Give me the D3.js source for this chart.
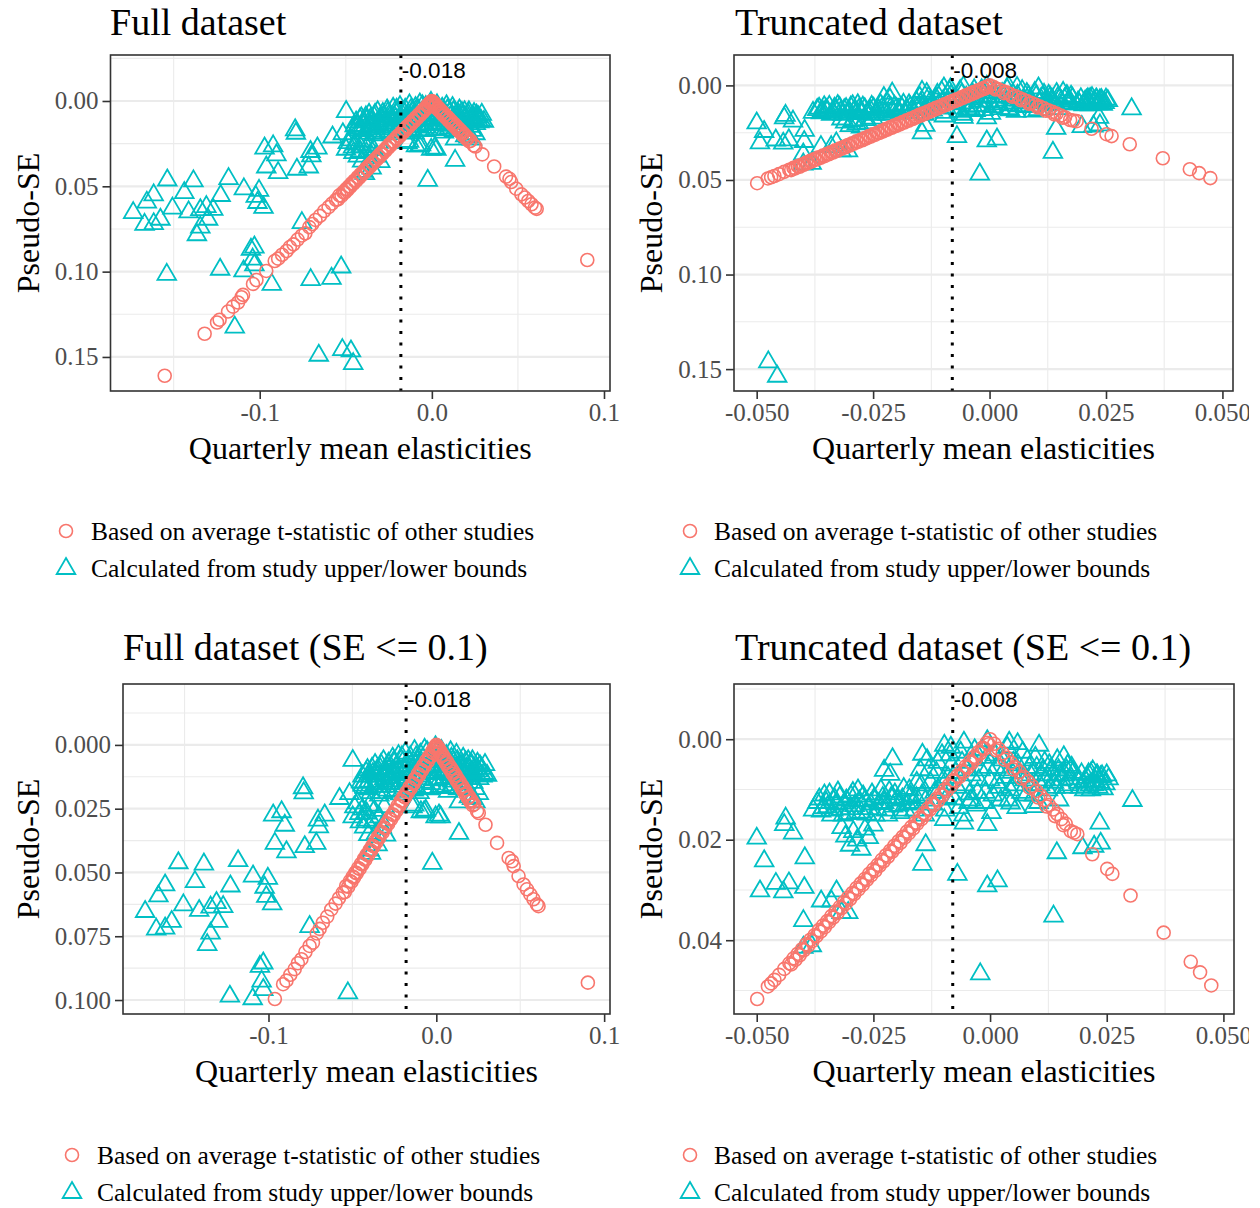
<!DOCTYPE html>
<html>
<head>
<meta charset="utf-8">
<script src="https://cdn.jsdelivr.net/npm/d3@7"></script>
<style>
  body { margin: 0; background: #ffffff; }
  svg { display: block; }
  .tick text { font-family: "Liberation Serif", "Times New Roman", serif; font-size: 25px; fill: #4d4d4d; }
  .tick line { stroke: #333333; stroke-width: 1.6px; }
  .axis-title { font-family: "Liberation Serif", "Times New Roman", serif; font-size: 32px; fill: #000; }
  .panel-title { font-family: "Liberation Serif", "Times New Roman", serif; font-size: 38px; fill: #000; }
  .legend-text { font-family: "Liberation Serif", "Times New Roman", serif; font-size: 25.5px; fill: #000; }
  .mean-label { font-family: "Liberation Sans", Arial, sans-serif; font-size: 22.5px; fill: #000; }
</style>
</head>
<body>
<svg id="chart" width="1260" height="1208"></svg>
<script>
// mean elasticities shown by the dotted lines
const fullMean = -0.018;
const truncMean = -0.008;

const legendLabels = ["Based on average t-statistic of other studies", "Calculated from study upper/lower bounds"];
const panelTitles = ["Full dataset", "Truncated dataset", "Full dataset (SE <= 0.1)", "Truncated dataset (SE <= 0.1)"];
const xLabel = "Quarterly mean elasticities";
const yLabel = "Pseudo-SE";

const fullXTicks = [-0.1, 0, 0.1];
const truncXTicks = [-0.05, -0.025, 0, 0.025, 0.05];
const fullYTicks = [0, 0.05, 0.10, 0.15];
const truncYTicks = [0, 0.05, 0.10, 0.15];
const fullCutYTicks = [0, 0.025, 0.05, 0.075, 0.1];
const truncCutYTicks = [0, 0.02, 0.04];

// [elasticity, pseudo-SE] -- based on average t-statistic (circles)
const fullRed = [
  [-0.1552,0.1610],
  [-0.1320,0.1364],[-0.1248,0.1298],[-0.1233,0.1282],[-0.1184,0.1234],[-0.1155,0.1205],[-0.1126,0.1181],
  [-0.1106,0.1150],[-0.1097,0.1136],[-0.1039,0.1072],[-0.1019,0.1049],
  [-0.0962,0.0996],[-0.0913,0.0938],[-0.0893,0.0924],[-0.0870,0.0901],[-0.0844,0.0879],[-0.0825,0.0856],
  [-0.0804,0.0840],[-0.0780,0.0812],[-0.0755,0.0788],[-0.0735,0.0775],[-0.0712,0.0739],[-0.0695,0.0721],
  [-0.0676,0.0697],[-0.0650,0.0673],[-0.0626,0.0645],[-0.0600,0.0622],[-0.0580,0.0601],[-0.0557,0.0579],
  [-0.0537,0.0553],[-0.0515,0.0534],[-0.0498,0.0516],[-0.0482,0.0500],[-0.0466,0.0483],[-0.0449,0.0466],
  [-0.0431,0.0447],[-0.0415,0.0430],[-0.0397,0.0412],[-0.0381,0.0395],[-0.0364,0.0377],[-0.0348,0.0361],
  [-0.0330,0.0342],[-0.0312,0.0324],[-0.0296,0.0307],[-0.0279,0.0289],[-0.0262,0.0272],[-0.0247,0.0256],
  [-0.0229,0.0237],[-0.0211,0.0219],[-0.0195,0.0202],[-0.0178,0.0185],[-0.0160,0.0166],[-0.0144,0.0149],
  [-0.0128,0.0133],[-0.0110,0.0114],[-0.0094,0.0097],[-0.0077,0.0080],[-0.0060,0.0062],[-0.0043,0.0045],
  [-0.0027,0.0028],[-0.0019,0.0020],[-0.0012,0.0012],[-0.0006,0.0006],[0.0000,0.0000],
  // second row of the thick band
  [-0.0545,0.0577],[-0.0525,0.0556],[-0.0506,0.0537],[-0.0490,0.0520],[-0.0474,0.0503],[-0.0457,0.0486],
  [-0.0440,0.0468],[-0.0423,0.0450],[-0.0406,0.0433],[-0.0389,0.0415],[-0.0372,0.0398],[-0.0356,0.0381],
  [-0.0339,0.0363],[-0.0321,0.0344],[-0.0304,0.0327],[-0.0287,0.0309],[-0.0270,0.0292],[-0.0254,0.0275],
  [-0.0238,0.0258],[-0.0220,0.0240],[-0.0203,0.0222],[-0.0186,0.0205],[-0.0169,0.0187],[-0.0152,0.0170],
  [-0.0136,0.0153],[-0.0119,0.0135],[-0.0102,0.0118],[-0.0085,0.0100],[-0.0068,0.0083],[-0.0051,0.0065],
  [-0.0035,0.0048],[-0.0018,0.0032],[0.0000,0.0016],
  [0.0006,0.0006],[0.0012,0.0012],[0.0019,0.0019],[0.0025,0.0026],[0.0038,0.0039],[0.0050,0.0052],
  [0.0063,0.0065],[0.0076,0.0079],[0.0089,0.0092],[0.0101,0.0105],[0.0115,0.0119],[0.0128,0.0133],
  [0.0141,0.0146],[0.0155,0.0161],[0.0168,0.0174],[0.0182,0.0189],[0.0196,0.0203],[0.0210,0.0218],
  [0.0018,0.0031],[0.0031,0.0045],[0.0044,0.0058],[0.0057,0.0072],[0.0070,0.0086],[0.0083,0.0099],
  [0.0096,0.0113],[0.0109,0.0126],[0.0122,0.0140],[0.0135,0.0153],[0.0148,0.0167],[0.0161,0.0180],
  [0.0175,0.0195],[0.0189,0.0209],[0.0203,0.0223],[0.0217,0.0237],
  [0.0225,0.0233],[0.0243,0.0260],[0.0253,0.0267],[0.0293,0.0313],[0.0362,0.0384],[0.0431,0.0443],
  [0.0451,0.0456],[0.0461,0.0475],[0.0490,0.0514],[0.0520,0.0547],[0.0540,0.0566],[0.0560,0.0586],
  [0.0579,0.0605],[0.0599,0.0625],[0.0609,0.0632],[0.0903,0.0932]
];

// [elasticity, pseudo-SE] -- from study upper/lower bounds (triangles)
const fullTri = [
  // left scatter
  [-0.1537,0.0460],[-0.1385,0.0465],[-0.1181,0.0452],[-0.1616,0.0547],[-0.1656,0.0590],[-0.1438,0.0534],
  [-0.1227,0.0551],[-0.1092,0.0512],[-0.1004,0.0521],[-0.1023,0.0556],[-0.1013,0.0592],[-0.0978,0.0621],
  [-0.1735,0.0651],[-0.1507,0.0625],[-0.1413,0.0647],[-0.1345,0.0634],[-0.1310,0.0616],[-0.1270,0.0632],
  [-0.1577,0.0690],[-0.1616,0.0716],[-0.1669,0.0720],[-0.1300,0.0690],[-0.1345,0.0736],[-0.1365,0.0781],
  [-0.1051,0.0866],[-0.1031,0.0853],[-0.1041,0.0924],[-0.1031,0.0957],[-0.1230,0.0983],[-0.1094,0.0993],
  [-0.0527,0.0970],[-0.0755,0.0710],
  // upper-left group
  [-0.0794,0.0166],[-0.0790,0.0186],[-0.0498,0.0059],[-0.0972,0.0273],[-0.0922,0.0260],[-0.0903,0.0313],
  [-0.0962,0.0384],[-0.0893,0.0417],[-0.0784,0.0397],[-0.0715,0.0384],[-0.0705,0.0293],[-0.0665,0.0273],
  [-0.0700,0.0319],[-0.0577,0.0208],[-0.0517,0.0189],[-0.0439,0.0156],[-0.0448,0.0143],[-0.0498,0.0280],
  [-0.0458,0.0267],[-0.0419,0.0293],[-0.0488,0.0241],[-0.0399,0.0234],[-0.0359,0.0345],[-0.0399,0.0410],
  [-0.0300,0.0352],[-0.0389,0.0423],
  [-0.0470,0.0225],[-0.0455,0.0300],[-0.0440,0.0250],[-0.0430,0.0320],[-0.0415,0.0265],[-0.0405,0.0350],
  [-0.0380,0.0300],[-0.0370,0.0255],[-0.0350,0.0390],[-0.0340,0.0280],[-0.0325,0.0320],[-0.0310,0.0240],
  // right scatter
  [-0.0024,0.0462],[0.0135,0.0345],[-0.0004,0.0280],[0.0016,0.0273],[-0.0073,0.0260],[-0.0092,0.0260],
  [-0.0063,0.0254],[-0.0132,0.0234],[-0.0142,0.0241],[0.0026,0.0280],[0.0135,0.0221],[0.0194,0.0202],
  [0.0233,0.0221],[0.0253,0.0189],[0.0302,0.0117],[0.0213,0.0208],[0.0233,0.0169],
  // dense cluster around the top
  [-0.0440,0.0120],[-0.0425,0.0165],[-0.0410,0.0095],[-0.0400,0.0140],[-0.0390,0.0185],[-0.0378,0.0110],
  [-0.0365,0.0075],[-0.0360,0.0150],[-0.0350,0.0120],[-0.0340,0.0195],[-0.0335,0.0090],[-0.0325,0.0160],
  [-0.0315,0.0060],[-0.0310,0.0130],[-0.0300,0.0100],[-0.0290,0.0175],[-0.0285,0.0070],[-0.0275,0.0140],
  [-0.0265,0.0105],[-0.0260,0.0050],[-0.0250,0.0160],[-0.0240,0.0085],[-0.0230,0.0125],[-0.0225,0.0040],
  [-0.0215,0.0190],[-0.0210,0.0100],[-0.0200,0.0065],[-0.0195,0.0150],[-0.0185,0.0030],[-0.0180,0.0115],
  [-0.0170,0.0080],[-0.0165,0.0170],[-0.0155,0.0045],[-0.0150,0.0135],[-0.0140,0.0095],[-0.0130,0.0020],
  [-0.0125,0.0160],[-0.0115,0.0060],[-0.0110,0.0120],[-0.0100,0.0185],[-0.0095,0.0035],[-0.0085,0.0090],
  [-0.0075,0.0145],[-0.0070,0.0015],[-0.0060,0.0065],[-0.0050,0.0110],[-0.0045,0.0170],[-0.0035,0.0030],
  [-0.0025,0.0085],[-0.0015,0.0135],[-0.0005,0.0005],[0.0005,0.0055],[0.0015,0.0105],[0.0020,0.0160],
  [0.0030,0.0020],[0.0040,0.0075],[0.0050,0.0125],[0.0060,0.0040],[0.0070,0.0180],[0.0075,0.0095],
  [0.0085,0.0025],[0.0095,0.0140],[0.0105,0.0065],[0.0115,0.0110],[0.0120,0.0035],[0.0130,0.0170],
  [0.0140,0.0080],[0.0150,0.0125],[0.0160,0.0050],[0.0170,0.0150],[0.0180,0.0090],[0.0190,0.0060],
  [0.0200,0.0120],[0.0210,0.0075],[0.0220,0.0145],[0.0230,0.0100],[0.0245,0.0070],[0.0255,0.0130],
  [0.0270,0.0090],[0.0285,0.0110],[0.0290,0.0075],
  [-0.0430,0.0145],[-0.0418,0.0105],[-0.0405,0.0170],[-0.0395,0.0120],[-0.0383,0.0090],[-0.0372,0.0160],
  [-0.0355,0.0100],[-0.0345,0.0140],[-0.0330,0.0075],[-0.0320,0.0185],[-0.0305,0.0115],[-0.0295,0.0150],
  [-0.0280,0.0090],[-0.0270,0.0125],[-0.0255,0.0065],[-0.0245,0.0180],[-0.0235,0.0110],[-0.0220,0.0150],
  [-0.0205,0.0045],[-0.0190,0.0095],[-0.0175,0.0135],[-0.0160,0.0065],[-0.0145,0.0115],[-0.0135,0.0175],
  [-0.0120,0.0045],[-0.0105,0.0090],[-0.0090,0.0130],[-0.0080,0.0050],[-0.0065,0.0165],[-0.0055,0.0025],
  [-0.0040,0.0095],[-0.0030,0.0150],[-0.0020,0.0050],[-0.0010,0.0110],[0.0000,0.0030],[0.0010,0.0080],
  [0.0025,0.0130],[0.0035,0.0045],[0.0045,0.0100],[0.0055,0.0165],[0.0065,0.0060],[0.0080,0.0115],
  [0.0090,0.0050],[0.0100,0.0155],[0.0110,0.0090],[0.0125,0.0060],[0.0135,0.0130],[0.0145,0.0100],
  [0.0155,0.0075],[0.0165,0.0110],[0.0175,0.0065],[0.0185,0.0130],[0.0195,0.0095],[0.0205,0.0105],
  [0.0215,0.0060],[0.0225,0.0115],[0.0240,0.0090],[0.0250,0.0100],[0.0260,0.0080],[0.0275,0.0120],
  // SE above 0.1
  [-0.1540,0.1013],[-0.0930,0.1072],[-0.1145,0.1322],[-0.0704,0.1044],[-0.0583,0.1036],[-0.0657,0.1487],
  [-0.0520,0.1454],[-0.0470,0.1462],[-0.0457,0.1536]
];

const truncRed = [
  [-0.0499,0.0517],[-0.0476,0.0492],[-0.0469,0.0486],[-0.0462,0.0479],[-0.0452,0.0469],[-0.0441,0.0457],
  [-0.0430,0.0446],[-0.0421,0.0436],[-0.0412,0.0427],[-0.0403,0.0418],[-0.0394,0.0408],[-0.0385,0.0399],
  [-0.0376,0.0390],[-0.0367,0.0380],[-0.0358,0.0371],[-0.0349,0.0362],[-0.0340,0.0352],[-0.0331,0.0343],
  [-0.0322,0.0334],[-0.0313,0.0324],[-0.0304,0.0315],[-0.0295,0.0306],[-0.0286,0.0296],[-0.0277,0.0287],
  [-0.0268,0.0278],[-0.0259,0.0268],[-0.0250,0.0259],[-0.0241,0.0250],[-0.0232,0.0240],[-0.0223,0.0231],
  [-0.0214,0.0222],[-0.0205,0.0212],[-0.0196,0.0203],[-0.0187,0.0194],[-0.0178,0.0184],[-0.0169,0.0175],
  [-0.0160,0.0166],[-0.0151,0.0156],[-0.0142,0.0147],[-0.0133,0.0138],[-0.0124,0.0128],[-0.0115,0.0119],
  [-0.0106,0.0110],[-0.0097,0.0100],[-0.0088,0.0091],[-0.0079,0.0082],[-0.0070,0.0073],[-0.0061,0.0063],
  [-0.0052,0.0054],[-0.0043,0.0045],[-0.0034,0.0035],[-0.0025,0.0026],[-0.0016,0.0017],[-0.0007,0.0007],
  [0.0000,0.0000],
  // second row of the thick band
  [-0.0426,0.0448],[-0.0417,0.0439],[-0.0408,0.0430],[-0.0399,0.0420],[-0.0390,0.0411],[-0.0381,0.0402],
  [-0.0372,0.0392],[-0.0363,0.0383],[-0.0354,0.0374],[-0.0345,0.0364],[-0.0336,0.0355],[-0.0327,0.0346],
  [-0.0318,0.0336],[-0.0309,0.0327],[-0.0300,0.0318],[-0.0291,0.0308],[-0.0282,0.0299],[-0.0273,0.0290],
  [-0.0264,0.0280],[-0.0255,0.0271],[-0.0246,0.0262],[-0.0237,0.0252],[-0.0228,0.0243],[-0.0219,0.0234],
  [-0.0210,0.0224],[-0.0201,0.0215],[-0.0192,0.0206],[-0.0183,0.0196],[-0.0174,0.0187],[-0.0165,0.0178],
  [-0.0156,0.0168],[-0.0147,0.0159],[-0.0138,0.0150],[-0.0129,0.0140],[-0.0120,0.0131],[-0.0111,0.0122],
  [-0.0102,0.0112],[-0.0093,0.0103],[-0.0084,0.0094],[-0.0075,0.0084],[-0.0066,0.0075],[-0.0057,0.0066],
  [-0.0048,0.0056],[-0.0039,0.0047],[-0.0030,0.0038],[-0.0021,0.0028],[-0.0012,0.0019],[-0.0003,0.0010],
  [0.0009,0.0009],[0.0018,0.0019],[0.0027,0.0028],[0.0036,0.0037],[0.0045,0.0047],[0.0054,0.0056],
  [0.0063,0.0065],[0.0072,0.0075],[0.0081,0.0084],[0.0090,0.0093],[0.0099,0.0103],[0.0108,0.0112],
  [0.0117,0.0121],[0.0126,0.0131],[0.0135,0.0140],[0.0144,0.0149],[0.0153,0.0159],[0.0162,0.0168],
  [0.0013,0.0022],[0.0031,0.0041],[0.0049,0.0060],[0.0067,0.0078],[0.0085,0.0097],[0.0103,0.0116],
  [0.0121,0.0134],[0.0139,0.0153],[0.0157,0.0171],
  [0.0173,0.0183],[0.0180,0.0186],[0.0187,0.0189],[0.0219,0.0229],[0.0251,0.0258],[0.0262,0.0268],
  [0.0301,0.0311],[0.0372,0.0385],[0.0430,0.0443],[0.0450,0.0464],[0.0474,0.0490]
];

const truncTri = [
  // left and lower scatter
  [-0.0500,0.0196],[-0.0484,0.0241],[-0.0438,0.0156],[-0.0441,0.0169],[-0.0422,0.0186],[-0.0379,0.0140],
  [-0.0397,0.0235],[-0.0493,0.0301],[-0.0459,0.0286],[-0.0443,0.0303],[-0.0431,0.0285],[-0.0398,0.0294],
  [-0.0362,0.0321],[-0.0329,0.0301],[-0.0400,0.0360],[-0.0382,0.0410],[-0.0400,0.0413],[-0.0340,0.0321],
  [-0.0318,0.0344],[-0.0304,0.0344],
  // top row and right scatter
  [-0.0209,0.0038],[-0.0227,0.0061],[-0.0214,0.0069],[-0.0145,0.0029],[-0.0098,0.0011],[-0.0084,0.0015],
  [-0.0056,0.0005],[-0.0006,0.0002],[0.0041,0.0005],[0.0059,0.0008],[0.0105,0.0011],[0.0158,0.0034],
  [0.0166,0.0051],[0.0216,0.0067],[0.0230,0.0071],[0.0237,0.0074],[0.0205,0.0094],[0.0216,0.0100],
  [0.0305,0.0121],[0.0235,0.0166],[0.0237,0.0206],[0.0223,0.0212],[0.0198,0.0215],[0.0143,0.0225],
  [0.0136,0.0351],[-0.0006,0.0291],[0.0016,0.0281],[-0.0021,0.0466],[-0.0070,0.0268],[-0.0138,0.0209],
  [-0.0145,0.0248],[-0.0098,0.0159],[-0.0056,0.0166],[-0.0006,0.0169],[-0.0041,0.0120],[0.0044,0.0126],
  [0.0094,0.0133],[0.0148,0.0120],
  // dense band
  [-0.0370,0.0125],[-0.0362,0.0142],[-0.0355,0.0110],[-0.0348,0.0133],[-0.0340,0.0150],[-0.0333,0.0118],
  [-0.0326,0.0104],[-0.0320,0.0138],[-0.0312,0.0126],[-0.0305,0.0147],[-0.0298,0.0112],[-0.0290,0.0131],
  [-0.0283,0.0100],[-0.0276,0.0144],[-0.0268,0.0121],[-0.0260,0.0137],[-0.0253,0.0108],[-0.0246,0.0150],
  [-0.0238,0.0127],[-0.0230,0.0115],[-0.0223,0.0140],[-0.0216,0.0103],[-0.0208,0.0132],[-0.0200,0.0120],
  [-0.0192,0.0145],[-0.0185,0.0097],[-0.0177,0.0128],[-0.0170,0.0112],[-0.0162,0.0140],[-0.0157,0.0085],
  [-0.0366,0.0118],[-0.0358,0.0135],[-0.0351,0.0125],[-0.0344,0.0108],[-0.0336,0.0140],[-0.0329,0.0128],
  [-0.0322,0.0114],[-0.0315,0.0150],[-0.0308,0.0120],[-0.0301,0.0137],[-0.0294,0.0105],[-0.0287,0.0145],
  [-0.0280,0.0122],[-0.0272,0.0112],[-0.0264,0.0148],[-0.0256,0.0128],[-0.0249,0.0118],[-0.0242,0.0138],
  [-0.0234,0.0100],[-0.0227,0.0125],[-0.0219,0.0150],[-0.0212,0.0115],[-0.0204,0.0108],[-0.0196,0.0130],
  [-0.0188,0.0118],[-0.0181,0.0140],[-0.0173,0.0100],[-0.0166,0.0125],[-0.0158,0.0115],
  [-0.0318,0.0175],[-0.0310,0.0192],[-0.0300,0.0210],[-0.0293,0.0183],[-0.0285,0.0200],[-0.0276,0.0218],
  [-0.0268,0.0178],[-0.0260,0.0195],[-0.0250,0.0170],
  [-0.0150,0.0060],[-0.0146,0.0110],[-0.0140,0.0150],[-0.0135,0.0040],[-0.0128,0.0085],[-0.0122,0.0128],
  [-0.0115,0.0065],[-0.0110,0.0100],[-0.0103,0.0030],[-0.0096,0.0140],[-0.0090,0.0075],[-0.0083,0.0050],
  [-0.0077,0.0118],[-0.0070,0.0095],[-0.0063,0.0025],[-0.0057,0.0150],[-0.0050,0.0060],[-0.0044,0.0108],
  [-0.0037,0.0040],[-0.0030,0.0130],[-0.0024,0.0080],[-0.0017,0.0020],
  [-0.0148,0.0090],[-0.0138,0.0120],[-0.0131,0.0060],[-0.0119,0.0105],[-0.0112,0.0045],[-0.0100,0.0080],
  [-0.0093,0.0115],[-0.0086,0.0030],[-0.0074,0.0065],[-0.0066,0.0135],[-0.0060,0.0045],[-0.0053,0.0090],
  [-0.0046,0.0125],[-0.0040,0.0070],[-0.0033,0.0020],[-0.0027,0.0105],[-0.0020,0.0060],[-0.0013,0.0125],
  [-0.0010,0.0105],[-0.0004,0.0055],[0.0003,0.0145],[0.0010,0.0030],[0.0016,0.0085],[0.0023,0.0120],
  [0.0030,0.0060],[0.0037,0.0015],[0.0043,0.0100],[0.0050,0.0045],[0.0057,0.0135],[0.0064,0.0075],
  [0.0070,0.0025],[0.0077,0.0110],[0.0084,0.0055],[0.0090,0.0090],[0.0097,0.0035],[0.0104,0.0125],
  [0.0110,0.0070],[0.0117,0.0045],[0.0124,0.0100],[0.0130,0.0060],[0.0137,0.0085],[0.0144,0.0040],
  [0.0150,0.0070],[0.0157,0.0095],[0.0164,0.0060],[0.0171,0.0078],[0.0178,0.0065],
  [-0.0007,0.0035],[0.0000,0.0080],[0.0006,0.0110],[0.0013,0.0055],[0.0020,0.0095],[0.0027,0.0040],
  [0.0033,0.0075],[0.0040,0.0120],[0.0047,0.0065],[0.0053,0.0090],[0.0060,0.0050],[0.0067,0.0105],
  [0.0074,0.0080],[0.0080,0.0040],[0.0087,0.0070],[0.0094,0.0110],[0.0100,0.0055],[0.0107,0.0090],
  [0.0114,0.0060],[0.0120,0.0080],[0.0127,0.0050],[0.0134,0.0070],[0.0140,0.0095],[0.0147,0.0060],
  [0.0154,0.0080],[0.0161,0.0070],[0.0168,0.0090],[0.0175,0.0055],
  [0.0190,0.0085],[0.0196,0.0068],[0.0202,0.0100],[0.0208,0.0075],[0.0214,0.0090],[0.0220,0.0062],
  [0.0226,0.0082],[0.0232,0.0095],[0.0240,0.0072],[0.0247,0.0088],[0.0254,0.0078],
  [0.0193,0.0095],[0.0205,0.0082],[0.0211,0.0068],[0.0223,0.0090],[0.0229,0.0070],[0.0236,0.0085],
  [0.0243,0.0098],[0.0250,0.0070],
  // SE above 0.1
  [-0.0475,0.1459],[-0.0456,0.1535]
];

const RED = "#F8766D";
const TEAL = "#00BFC4";
const locale = d3.formatLocale({decimal: ".", thousands: ",", grouping: [3], currency: ["", ""], minus: "-"});
const triPath = "M0,-10L9.3,6L-9.3,6Z";

class FunnelPanel {
    constructor(_config, _red, _tri) {
        this.config = {
            parentElement: _config.parentElement,
            left: _config.left,
            top: _config.top,
            width: _config.width,
            height: _config.height,
            title: _config.title,
            titleX: _config.titleX,
            titleY: _config.titleY,
            mean: _config.mean,
            maxSE: _config.maxSE,
            xTicks: _config.xTicks,
            yTicks: _config.yTicks,
            xFormat: _config.xFormat,
            yFormat: _config.yFormat,
            yTitleX: _config.yTitleX,
            legend: _config.legend
        };
        const keep = d => this.config.maxSE == null || d[1] <= this.config.maxSE;
        this.red = _red.filter(keep);
        this.tri = _tri.filter(keep);
        this.initVis();
    }

    initVis() {
        let vis = this;
        const c = vis.config;

        // ggplot-like 5% expansion, the mean label (placed at mean, mean) is part of the range
        const xs = vis.red.map(d => d[0]).concat(vis.tri.map(d => d[0]), [c.mean]);
        const ys = vis.red.map(d => d[1]).concat(vis.tri.map(d => d[1]), [c.mean]);
        const xe = d3.extent(xs), ye = d3.extent(ys);
        const xp = (xe[1] - xe[0]) * 0.05, yp = (ye[1] - ye[0]) * 0.05;

        vis.xScale = d3.scaleLinear()
            .domain([xe[0] - xp, xe[1] + xp])
            .range([c.left, c.left + c.width]);
        vis.yScale = d3.scaleLinear()
            .domain([ye[0] - yp, ye[1] + yp])
            .range([c.top, c.top + c.height]);

        vis.g = d3.select(c.parentElement).append("g");

        vis.renderVis();
    }

    minorBreaks(ticks, domain) {
        const step = ticks[1] - ticks[0];
        const ext = [ticks[0] - step].concat(ticks, [ticks[ticks.length - 1] + step]);
        return d3.pairs(ext, (a, b) => (a + b) / 2).filter(v => v >= domain[0] && v <= domain[1]);
    }

    renderVis() {
        let vis = this;
        const c = vis.config;
        const x = vis.xScale, y = vis.yScale;

        // grid (no major x lines in the original)
        const grid = vis.g.append("g").attr("class", "grid");
        grid.selectAll(".minor-x")
            .data(vis.minorBreaks(c.xTicks, x.domain()))
            .join("line")
            .attr("x1", d => x(d)).attr("x2", d => x(d))
            .attr("y1", c.top).attr("y2", c.top + c.height)
            .attr("stroke", "#ebebeb").attr("stroke-width", 1.1);
        grid.selectAll(".minor-y")
            .data(vis.minorBreaks(c.yTicks, y.domain()))
            .join("line")
            .attr("y1", d => y(d)).attr("y2", d => y(d))
            .attr("x1", c.left).attr("x2", c.left + c.width)
            .attr("stroke", "#ebebeb").attr("stroke-width", 1.1);
        grid.selectAll(".major-y")
            .data(c.yTicks)
            .join("line")
            .attr("y1", d => y(d)).attr("y2", d => y(d))
            .attr("x1", c.left).attr("x2", c.left + c.width)
            .attr("stroke", "#ebebeb").attr("stroke-width", 2.2);

        // points
        vis.g.append("g").selectAll("path")
            .data(vis.tri)
            .join("path")
            .attr("d", triPath)
            .attr("transform", d => `translate(${x(d[0])},${y(d[1])})`)
            .attr("fill", "none")
            .attr("stroke", TEAL)
            .attr("stroke-width", 1.8);

        vis.g.append("g").selectAll("circle")
            .data(vis.red)
            .join("circle")
            .attr("cx", d => x(d[0]))
            .attr("cy", d => y(d[1]))
            .attr("r", 6.5)
            .attr("fill", "none")
            .attr("stroke", RED)
            .attr("stroke-width", 1.6);

        // mean line + label
        vis.g.append("line")
            .attr("x1", x(c.mean)).attr("x2", x(c.mean))
            .attr("y1", c.top).attr("y2", c.top + c.height)
            .attr("stroke", "#000")
            .attr("stroke-width", 3)
            .attr("stroke-dasharray", "3,8.5");
        vis.g.append("text")
            .attr("class", "mean-label")
            .attr("x", x(c.mean) + 1)
            .attr("y", y(c.mean))
            .attr("dominant-baseline", "central")
            .text(locale.format(".3f")(c.mean));

        // border
        vis.g.append("rect")
            .attr("x", c.left).attr("y", c.top)
            .attr("width", c.width).attr("height", c.height)
            .attr("fill", "none")
            .attr("stroke", "#333333")
            .attr("stroke-width", 1.6);

        // axes
        const xAxis = d3.axisBottom(x).tickValues(c.xTicks)
            .tickFormat(locale.format(c.xFormat)).tickSize(8).tickPadding(4);
        const yAxis = d3.axisLeft(y).tickValues(c.yTicks)
            .tickFormat(locale.format(c.yFormat)).tickSize(8).tickPadding(4);
        vis.g.append("g")
            .attr("transform", `translate(0,${c.top + c.height})`)
            .call(xAxis)
            .call(g => g.select(".domain").remove())
            .call(g => g.selectAll("text").attr("font-family", null).attr("font-size", null).attr("fill", null));
        vis.g.append("g")
            .attr("transform", `translate(${c.left},0)`)
            .call(yAxis)
            .call(g => g.select(".domain").remove())
            .call(g => g.selectAll("text").attr("font-family", null).attr("font-size", null).attr("fill", null));
        vis.g.selectAll(".tick line").attr("stroke", null);

        // titles
        vis.g.append("text")
            .attr("class", "panel-title")
            .attr("x", c.titleX)
            .attr("y", c.titleY)
            .text(c.title);
        vis.g.append("text")
            .attr("class", "axis-title")
            .attr("x", c.left + c.width / 2)
            .attr("y", c.top + c.height + 68)
            .attr("text-anchor", "middle")
            .text(xLabel);
        vis.g.append("text")
            .attr("class", "axis-title")
            .attr("transform", `translate(${c.yTitleX},${c.top + c.height / 2}) rotate(-90)`)
            .attr("text-anchor", "middle")
            .attr("dominant-baseline", "central")
            .text(yLabel);

        // legend
        const lg = vis.g.append("g")
            .attr("transform", `translate(${c.legend.x},${c.legend.y})`);
        lg.append("circle")
            .attr("r", 6.5).attr("fill", "none")
            .attr("stroke", RED).attr("stroke-width", 1.6);
        lg.append("path")
            .attr("d", triPath)
            .attr("transform", `translate(0,${c.legend.gap})`)
            .attr("fill", "none")
            .attr("stroke", TEAL).attr("stroke-width", 1.8);
        lg.selectAll("text")
            .data(legendLabels)
            .join("text")
            .attr("class", "legend-text")
            .attr("x", c.legend.textDx)
            .attr("y", (d, i) => i * c.legend.gap)
            .attr("dominant-baseline", "central")
            .text(d => d);
    }
}

const panelConfigs = [
    {title: panelTitles[0], titleX: 110, titleY: 35, left: 110.5, top: 55, width: 499.5, height: 336,
     mean: fullMean, maxSE: null, xTicks: fullXTicks, yTicks: fullYTicks, xFormat: ".1f", yFormat: ".2f",
     yTitleX: 28, legend: {x: 66, y: 531, gap: 37, textDx: 25}, red: fullRed, tri: fullTri},
    {title: panelTitles[1], titleX: 735, titleY: 35, left: 734, top: 55, width: 499, height: 336,
     mean: truncMean, maxSE: null, xTicks: truncXTicks, yTicks: truncYTicks, xFormat: ".3f", yFormat: ".2f",
     yTitleX: 651, legend: {x: 690, y: 531, gap: 37, textDx: 24}, red: truncRed, tri: truncTri},
    {title: panelTitles[2], titleX: 123, titleY: 660, left: 123, top: 684, width: 487, height: 330,
     mean: fullMean, maxSE: 0.1, xTicks: fullXTicks, yTicks: fullCutYTicks, xFormat: ".1f", yFormat: ".3f",
     yTitleX: 28, legend: {x: 72, y: 1155, gap: 37, textDx: 25}, red: fullRed, tri: fullTri},
    {title: panelTitles[3], titleX: 735, titleY: 660, left: 734, top: 684, width: 500, height: 330,
     mean: truncMean, maxSE: 0.1, xTicks: truncXTicks, yTicks: truncCutYTicks, xFormat: ".3f", yFormat: ".2f",
     yTitleX: 651, legend: {x: 690, y: 1155, gap: 37, textDx: 24}, red: truncRed, tri: truncTri}
];

// the source figure is cropped just right of the last tick labels
const svg = d3.select("#chart");
svg.append("defs").append("clipPath").attr("id", "page-clip")
    .append("rect").attr("width", 1249).attr("height", 1208);
const root = svg.append("g").attr("id", "root").attr("clip-path", "url(#page-clip)");

panelConfigs.forEach(p => {
    new FunnelPanel(Object.assign({parentElement: "#root"}, p), p.red, p.tri);
});
</script>
</body>
</html>
